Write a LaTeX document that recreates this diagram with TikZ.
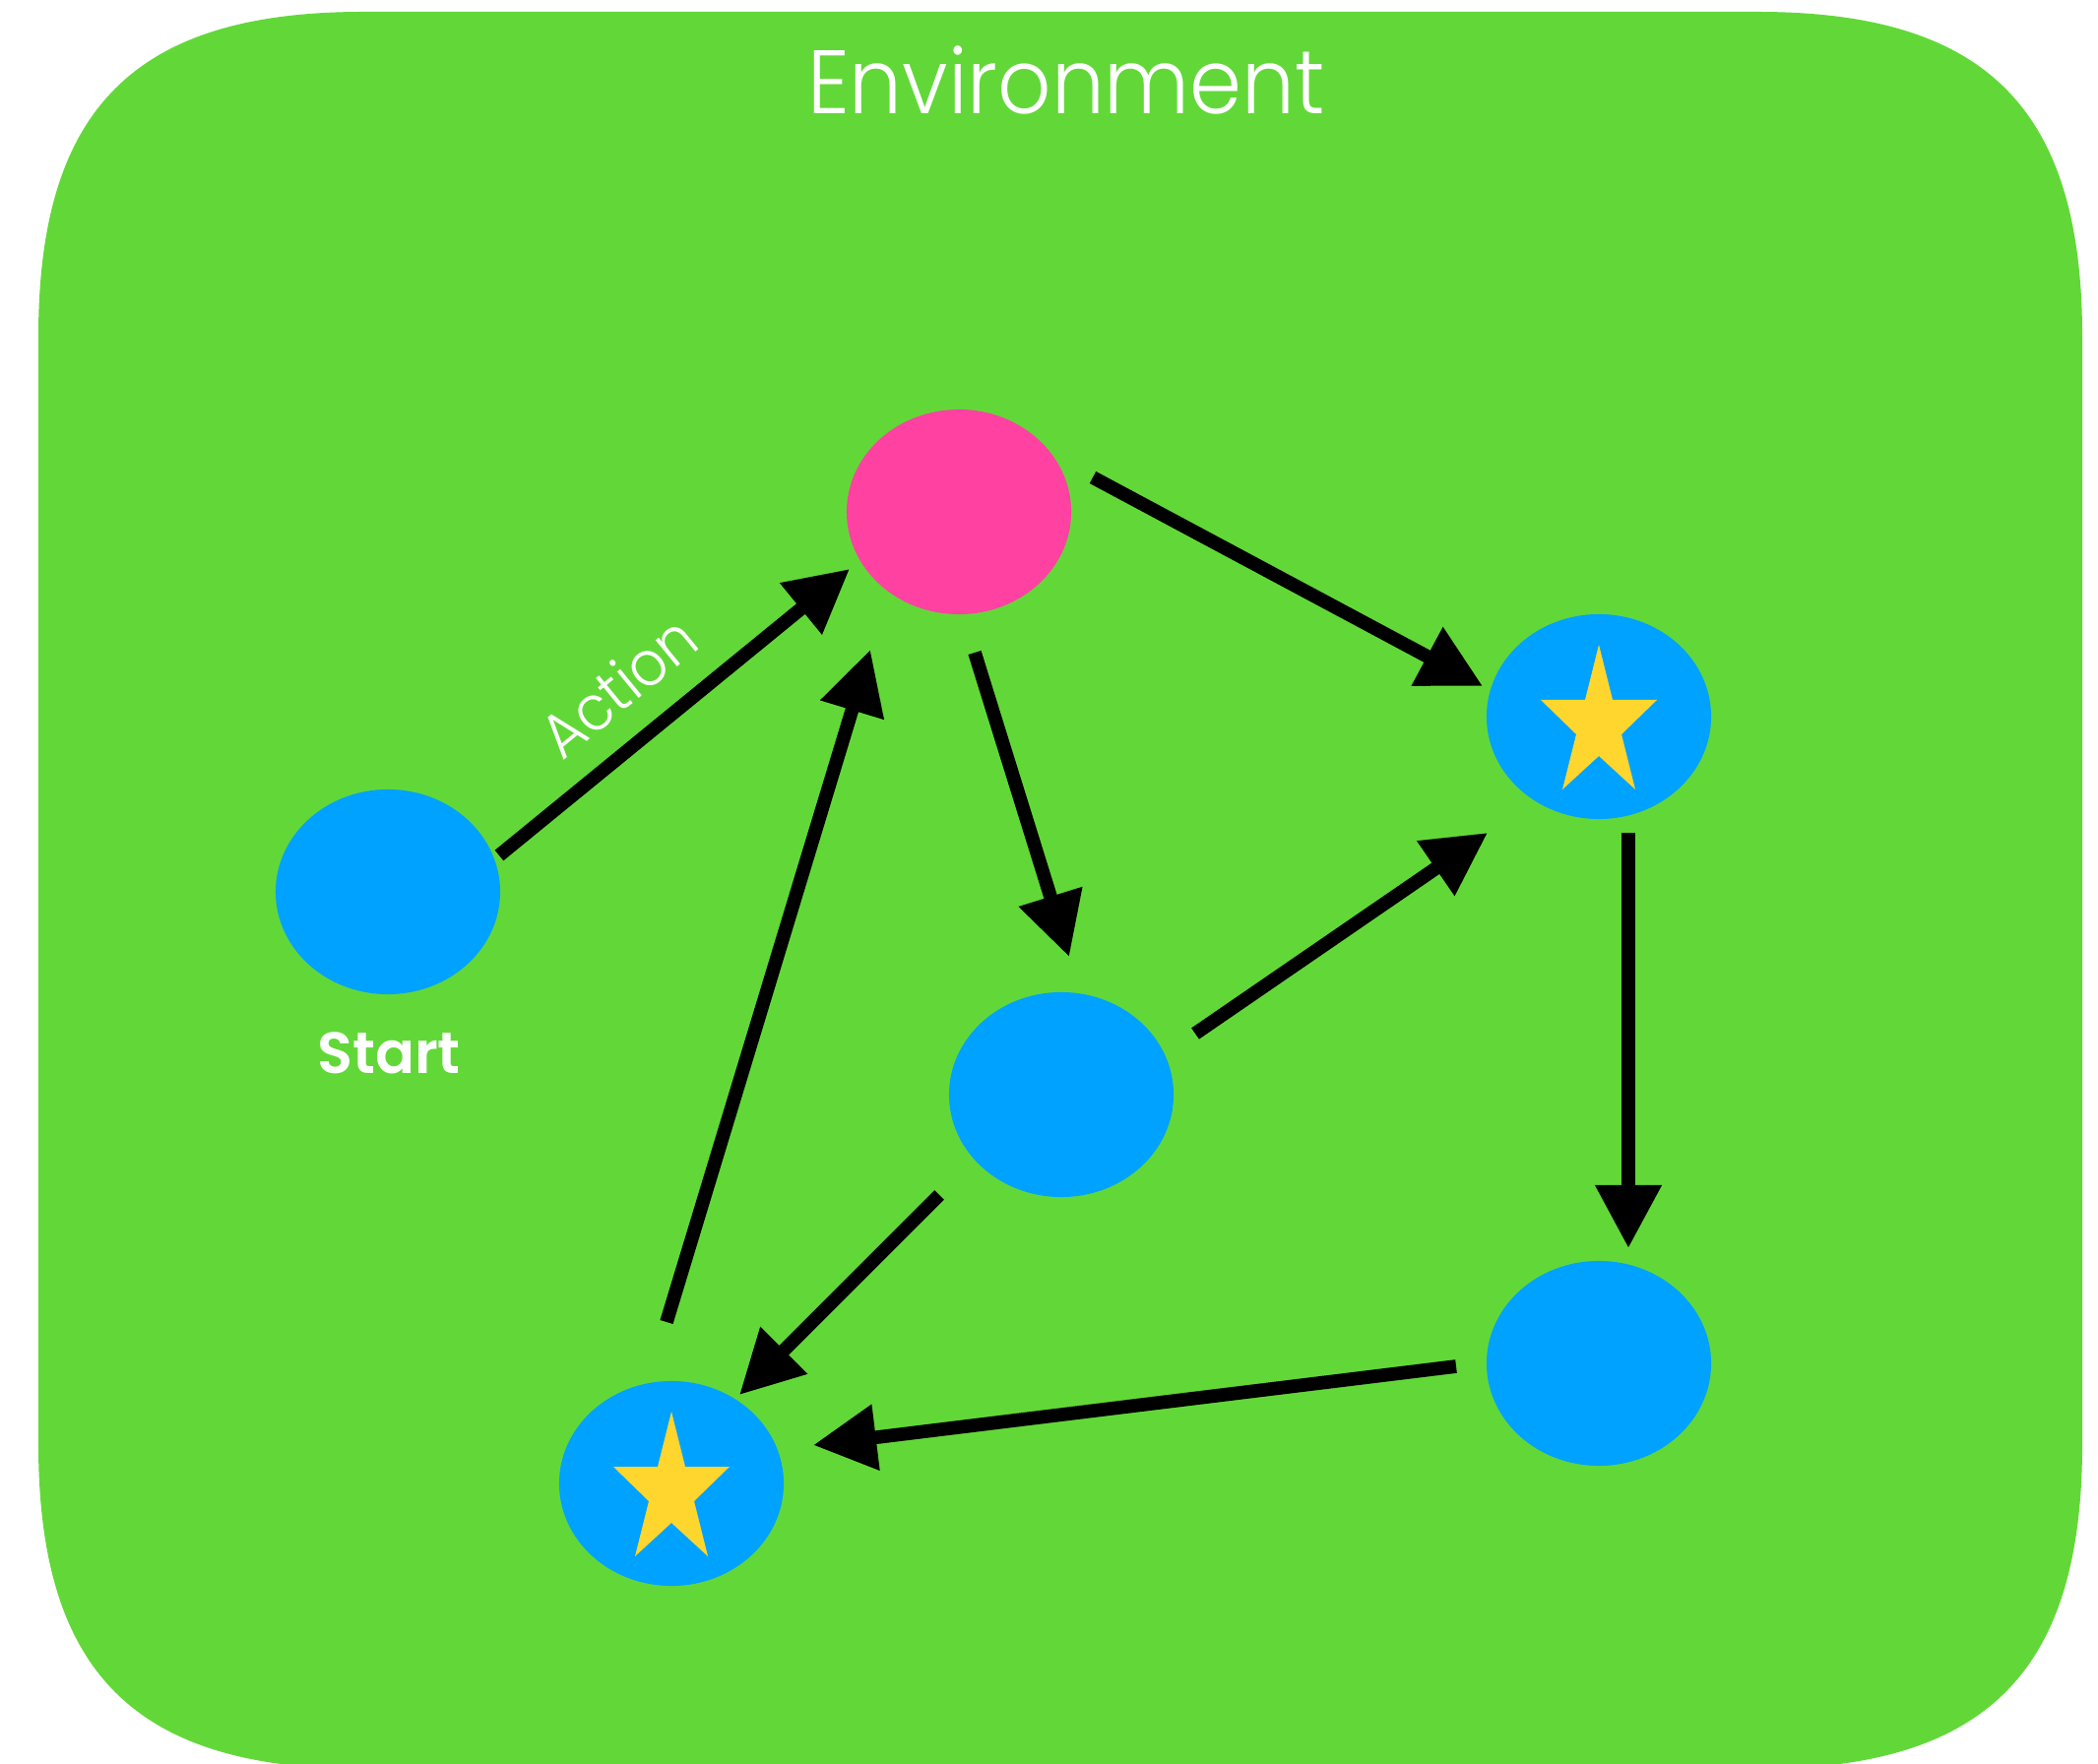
\documentclass[tikz,border=0pt]{standalone}
\usepackage{fontspec}
\setmainfont{Poppins}
\newfontfamily\lightfont{Poppins}[UprightFont=* Light, FakeStretch=0.93]
\newfontfamily\semifont{Poppins}[UprightFont=* SemiBold]
\usetikzlibrary{arrows.meta,calc,shapes.geometric}
\definecolor{envgreen}{RGB}{98,216,56}
\definecolor{stateblue}{RGB}{0,162,255}
\definecolor{statepink}{RGB}{255,66,161}
\definecolor{staryellow}{RGB}{255,214,46}
\begin{document}
\begin{tikzpicture}[x=0.01cm,y=-0.01cm,
  state/.style={ellipse, fill=stateblue, minimum width=2.28cm, minimum height=2.08cm, inner sep=0pt},
  arr/.style={line width=3.9pt, -{Triangle[length=0.64cm,width=0.64cm]}},
  goalstar/.style={fill=staryellow},
  lbl/.style={text=white, inner sep=0pt}]
\useasboundingbox (0,0) rectangle (2131,1792);
\clip (0,0) rectangle (2131,1792);
\fill[white] (0,0) rectangle (2131,1792);
\fill[envgreen] (39,342) .. controls (39,110) and (137,12) .. (369,12)
  -- (1785,12) .. controls (2017,12) and (2115,110) .. (2115,342)
  -- (2115,1467) .. controls (2115,1699) and (2017,1797) .. (1785,1797)
  -- (369,1797) .. controls (137,1797) and (39,1699) .. (39,1467) -- cycle;

\node[lbl, anchor=base, font=\lightfont\fontsize{26}{30}\selectfont] (envlabel) at (1083,116) {Environment};

\node[state, fill=statepink] (pink) at (974,520) {};
\node[state] (start) at (394,906) {};
\node[state] (goalA) at (1624,728) {};
\node[state] (mid) at (1078,1112) {};
\node[state] (br) at (1624,1385) {};
\node[state] (goalB) at (682,1507) {};

\fill[goalstar, shift={(goalA.center)}] (0,-73) -- (14,-17) -- (59,-17) -- (23,18) -- (37,74) -- (0,40) -- (-37,74) -- (-23,18) -- (-59,-17) -- (-14,-17) -- cycle;
\fill[goalstar, shift={(goalB.center)}] (0,-73) -- (14,-17) -- (59,-17) -- (23,18) -- (37,74) -- (0,40) -- (-37,74) -- (-23,18) -- (-59,-17) -- (-14,-17) -- cycle;

\node[lbl, anchor=base, font=\semifont\fontsize{16.8}{20}\selectfont] (startlabel) at (395,1090) {Start};

\draw[arr] ($(start.center)+(113,-37)$) -- node[lbl, pos=0.44, sloped, above=0.26cm, font=\lightfont\fontsize{18}{20}\selectfont] (actionlabel) {Action} ($(pink.center)+(-111,58)$);
\draw[arr] ($(pink.center)+(136,-35)$) -- ($(goalA.center)+(-118,-31)$);
\draw[arr] ($(pink.center)+(16,143)$) -- ($(mid.center)+(8,-140)$);
\draw[arr] ($(mid.center)+(136,-62)$) -- ($(goalA.center)+(-113,118)$);
\draw[arr] ($(goalA.center)+(30,118)$) -- ($(br.center)+(30,-117)$);
\draw[arr] ($(br.center)+(-145,3)$) -- ($(goalB.center)+(144,-39)$);
\draw[arr] ($(mid.center)+(-124,102)$) -- ($(goalB.center)+(69,-90)$);
\draw[arr] ($(goalB.center)+(-5,-164)$) -- ($(pink.center)+(-90,140)$);
\end{tikzpicture}
\end{document}
